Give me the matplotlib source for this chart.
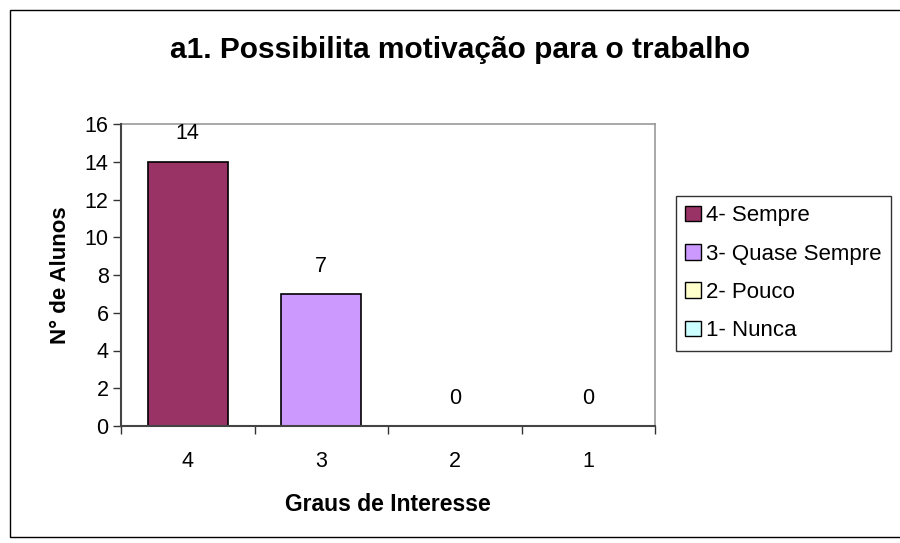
import matplotlib
matplotlib.use("Agg")
import matplotlib.pyplot as plt
from matplotlib.patches import Rectangle, Patch

plt.rcParams['font.family'] = ['Liberation Sans', 'DejaVu Sans']

categories = ["4", "3", "2", "1"]
values = [14, 7, 0, 0]
series_labels = ["4- Sempre", "3- Quase Sempre", "2- Pouco", "1- Nunca"]
colors = ["#993366", "#CC99FF", "#FFFFCC", "#CCFFFF"]
title = "a1. Possibilita motivação para o trabalho"
ylabel = "N° de Alunos"
xlabel = "Graus de Interesse"

FS = 15.5

fig = plt.figure(figsize=(9, 5.43), dpi=100)
fig.patches.append(Rectangle((10/900, 6/543), 1.0, (537-10)/543,
                             transform=fig.transFigure, fill=False,
                             edgecolor='black', linewidth=1.0))

ax = fig.add_axes([121/900, (543-426)/543, 534/900, (426-124)/543])
x = list(range(len(categories)))
ax.bar(x, values, width=0.6, color=colors, edgecolor='black', linewidth=1.2, zorder=2)

for xi, v in zip(x, values):
    ax.annotate(str(v), (xi, v), xytext=(0, 20), textcoords='offset points',
                ha='center', va='center', fontsize=FS)

ax.set_xlim(-0.5, len(categories) - 0.5)
ax.set_ylim(0, 16)
ax.set_yticks(range(0, 17, 2))
ax.tick_params(axis='y', direction='out', length=6, width=1, labelsize=FS, pad=3, color='#333333')
ax.set_xticks([i - 0.5 for i in range(len(categories) + 1)])
ax.set_xticklabels([])
ax.set_xticks(x, minor=True)
ax.set_xticklabels(categories, minor=True, fontsize=FS)
ax.tick_params(axis='x', which='major', direction='out', length=6, width=1, color='#333333')
ax.tick_params(axis='x', which='minor', length=0, pad=18)

for s in ['top', 'right']:
    ax.spines[s].set_color('#999999')
    ax.spines[s].set_linewidth(1.2)
for s in ['left', 'bottom']:
    ax.spines[s].set_color('#444444')
    ax.spines[s].set_linewidth(1.5)
    ax.spines[s].set_zorder(4)

ax.set_ylabel(ylabel, fontsize=16, fontweight='bold', labelpad=10)
ax.set_xlabel(xlabel, fontsize=16.5, fontweight='bold', labelpad=15)

fig.text(460/900, 1 - 50/543, title, ha='center', va='center', fontsize=21.5, fontweight='bold')

handles = [Patch(facecolor=c, edgecolor='black', linewidth=1.0) for c in colors]
leg = fig.legend(handles, series_labels, loc='upper left',
                 bbox_to_anchor=(676/900, 1 - 196/543), bbox_transform=fig.transFigure,
                 fontsize=16, frameon=True, fancybox=False, edgecolor='black',
                 handlelength=0.7, handleheight=0.7, handletextpad=0.25,
                 labelspacing=0.78, borderpad=0.42, borderaxespad=0)
leg.get_frame().set_linewidth(1.0)

fig.savefig("out.png", dpi=100, facecolor='white')
